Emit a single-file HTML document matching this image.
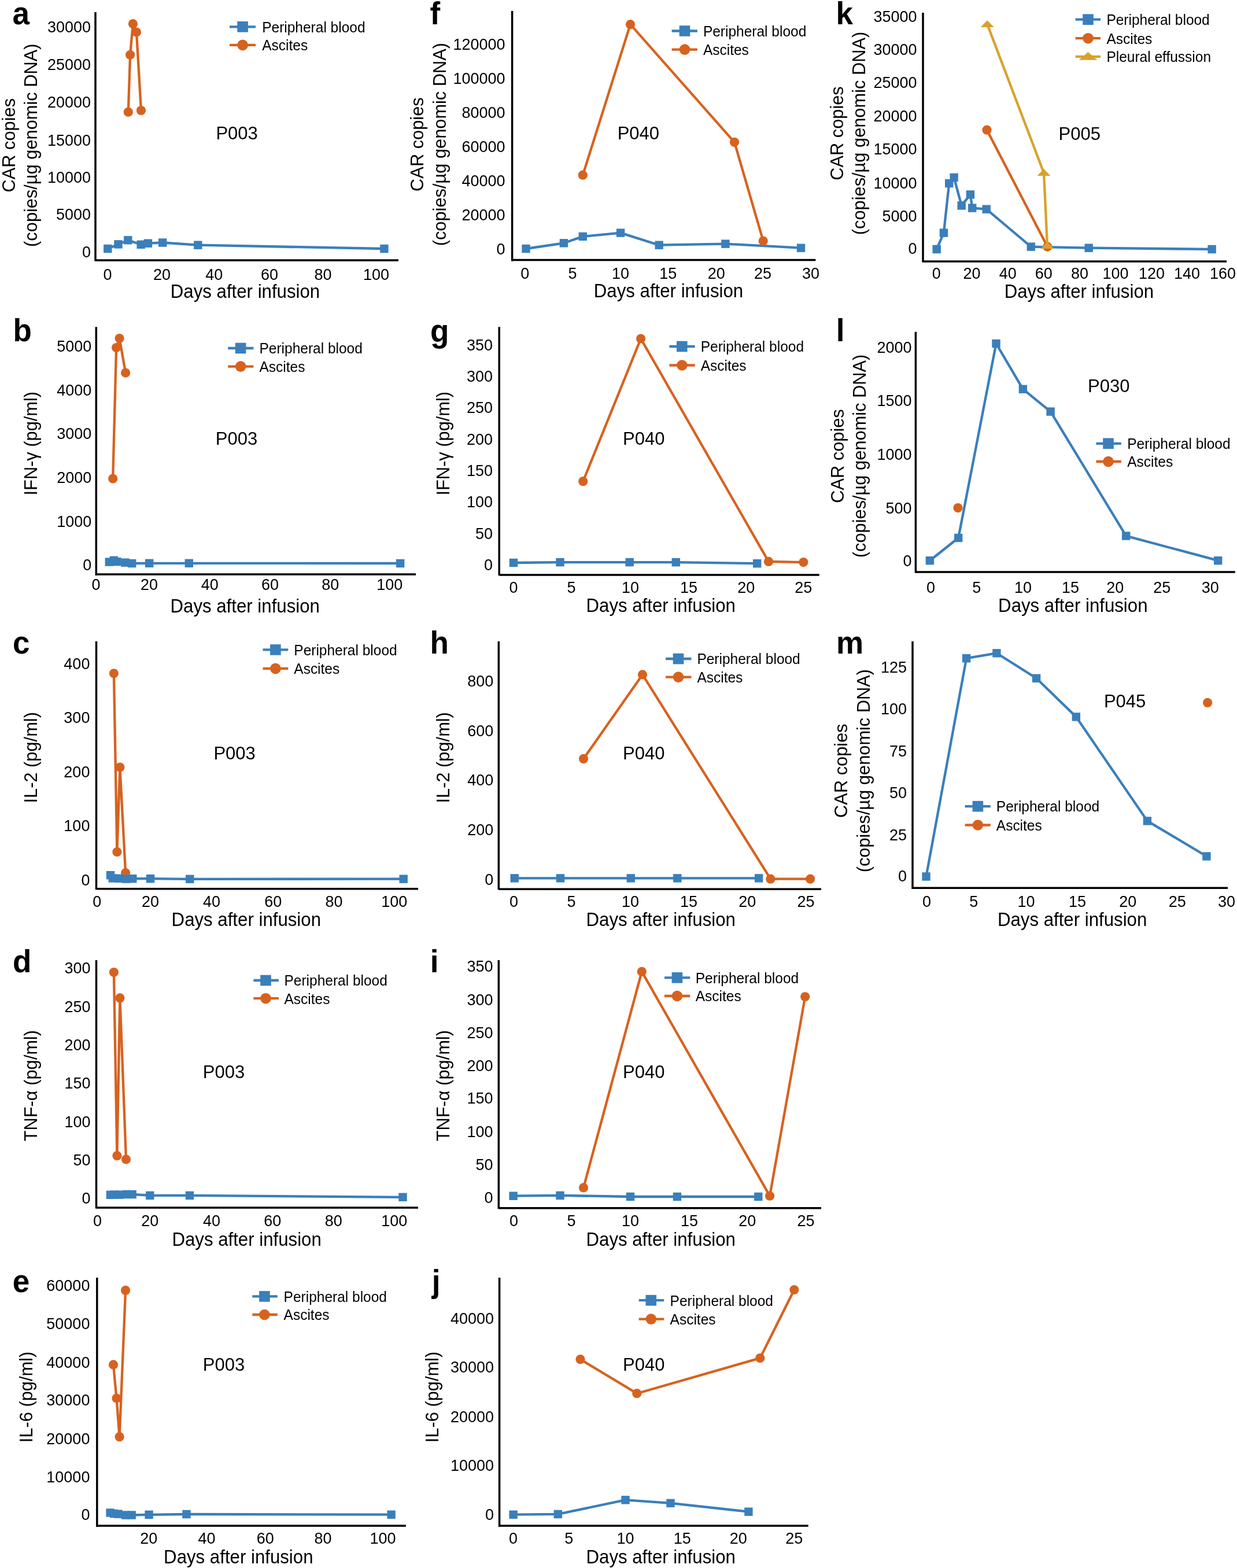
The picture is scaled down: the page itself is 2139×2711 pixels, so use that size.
<!DOCTYPE html>
<html><head><meta charset="utf-8"><title>Figure</title>
<style>
html,body{margin:0;padding:0;background:#fff;}
svg{display:block;}
text{font-family:'Liberation Sans', Arial, sans-serif;fill:#000;}
</style></head>
<body>
<svg width="2139" height="2711" viewBox="0 0 2139 2711">
<rect width="2139" height="2711" fill="#fff"/>
<text x="21.5" y="42.3" font-size="53" text-anchor="start" font-weight="bold" transform="translate(21.5 42.3) scale(1 1.04) translate(-21.5 -42.3)">a</text>
<line x1="165" y1="21" x2="165" y2="451.5" stroke="#000" stroke-width="3.5"/>
<line x1="165" y1="450" x2="689" y2="450" stroke="#000" stroke-width="3.5"/>
<text x="157.0" y="444.8" font-size="27" text-anchor="end" transform="translate(157.0 444.8) scale(1 1.04) translate(-157.0 -444.8)">0</text>
<text x="157.0" y="379.8" font-size="27" text-anchor="end" transform="translate(157.0 379.8) scale(1 1.04) translate(-157.0 -379.8)">5000</text>
<text x="157.0" y="315.8" font-size="27" text-anchor="end" transform="translate(157.0 315.8) scale(1 1.04) translate(-157.0 -315.8)">10000</text>
<text x="157.0" y="251.6" font-size="27" text-anchor="end" transform="translate(157.0 251.6) scale(1 1.04) translate(-157.0 -251.6)">15000</text>
<text x="157.0" y="185.6" font-size="27" text-anchor="end" transform="translate(157.0 185.6) scale(1 1.04) translate(-157.0 -185.6)">20000</text>
<text x="157.0" y="121.4" font-size="27" text-anchor="end" transform="translate(157.0 121.4) scale(1 1.04) translate(-157.0 -121.4)">25000</text>
<text x="157.0" y="56.3" font-size="27" text-anchor="end" transform="translate(157.0 56.3) scale(1 1.04) translate(-157.0 -56.3)">30000</text>
<text x="186.0" y="483.9" font-size="27" text-anchor="middle" transform="translate(186.0 483.9) scale(1 1.04) translate(-186.0 -483.9)">0</text>
<text x="280.0" y="483.9" font-size="27" text-anchor="middle" transform="translate(280.0 483.9) scale(1 1.04) translate(-280.0 -483.9)">20</text>
<text x="370.2" y="483.9" font-size="27" text-anchor="middle" transform="translate(370.2 483.9) scale(1 1.04) translate(-370.2 -483.9)">40</text>
<text x="466.0" y="483.9" font-size="27" text-anchor="middle" transform="translate(466.0 483.9) scale(1 1.04) translate(-466.0 -483.9)">60</text>
<text x="558.4" y="483.9" font-size="27" text-anchor="middle" transform="translate(558.4 483.9) scale(1 1.04) translate(-558.4 -483.9)">80</text>
<text x="650.5" y="483.9" font-size="27" text-anchor="middle" transform="translate(650.5 483.9) scale(1 1.04) translate(-650.5 -483.9)">100</text>
<text x="424.0" y="514.7" font-size="31.2" text-anchor="middle" transform="translate(424.0 514.7) scale(1 1.04) translate(-424.0 -514.7)">Days after infusion</text>
<text x="26.3" y="251.2" font-size="30.8" text-anchor="middle" transform="rotate(-90 26.3 251.2) translate(26.3 251.2) scale(1 1.04) translate(-26.3 -251.2)">CAR copies</text>
<text x="64.0" y="251.2" font-size="30.8" text-anchor="middle" transform="rotate(-90 64.0 251.2) translate(64.0 251.2) scale(1 1.04) translate(-64.0 -251.2)">(copies/µg genomic DNA)</text>
<text x="409.6" y="240.7" font-size="31" text-anchor="middle" transform="translate(409.6 240.7) scale(1 1.04) translate(-409.6 -240.7)">P003</text>
<polyline points="186.3,430.0 204.5,422.4 221.3,415.3 243.7,422.8 255.9,420.7 281.2,419.5 342.3,423.7 664.4,430.0" fill="none" stroke="#3a7fbb" stroke-width="4.3" stroke-linejoin="round"/>
<rect x="179.10" y="422.80" width="14.40" height="14.40" fill="#3a7fbb"/>
<rect x="197.30" y="415.20" width="14.40" height="14.40" fill="#3a7fbb"/>
<rect x="214.10" y="408.10" width="14.40" height="14.40" fill="#3a7fbb"/>
<rect x="236.50" y="415.60" width="14.40" height="14.40" fill="#3a7fbb"/>
<rect x="248.70" y="413.50" width="14.40" height="14.40" fill="#3a7fbb"/>
<rect x="274.00" y="412.30" width="14.40" height="14.40" fill="#3a7fbb"/>
<rect x="335.10" y="416.50" width="14.40" height="14.40" fill="#3a7fbb"/>
<rect x="657.20" y="422.80" width="14.40" height="14.40" fill="#3a7fbb"/>
<polyline points="221.8,193.7 225.1,94.8 229.9,41.2 236.0,55.5 244.0,191.0" fill="none" stroke="#d7621f" stroke-width="4.3" stroke-linejoin="round"/>
<circle cx="221.8" cy="193.7" r="8.10" fill="#d7621f"/>
<circle cx="225.1" cy="94.8" r="8.10" fill="#d7621f"/>
<circle cx="229.9" cy="41.2" r="8.10" fill="#d7621f"/>
<circle cx="236.0" cy="55.5" r="8.10" fill="#d7621f"/>
<circle cx="244.0" cy="191.0" r="8.10" fill="#d7621f"/>
<line x1="397" y1="46.3" x2="442" y2="46.3" stroke="#3a7fbb" stroke-width="4.3"/>
<rect x="410.30" y="37.00" width="18.60" height="18.60" fill="#3a7fbb"/>
<text x="453.2" y="55.7" font-size="24.5" text-anchor="start" transform="translate(453.2 55.7) scale(1 1.04) translate(-453.2 -55.7)">Peripheral blood</text>
<line x1="397" y1="77.9" x2="442" y2="77.9" stroke="#d7621f" stroke-width="4.3"/>
<circle cx="419.6" cy="77.9" r="9.30" fill="#d7621f"/>
<text x="453.2" y="87.3" font-size="24.5" text-anchor="start" transform="translate(453.2 87.3) scale(1 1.04) translate(-453.2 -87.3)">Ascites</text>
<text x="743.6" y="42.0" font-size="53" text-anchor="start" font-weight="bold" transform="translate(743.6 42.0) scale(1 1.04) translate(-743.6 -42.0)">f</text>
<line x1="885.6" y1="19" x2="885.6" y2="451.5" stroke="#000" stroke-width="3.5"/>
<line x1="885.6" y1="449.6" x2="1410.4" y2="449.6" stroke="#000" stroke-width="3.5"/>
<text x="873.5" y="440.3" font-size="27" text-anchor="end" transform="translate(873.5 440.3) scale(1 1.04) translate(-873.5 -440.3)">0</text>
<text x="873.5" y="381.2" font-size="27" text-anchor="end" transform="translate(873.5 381.2) scale(1 1.04) translate(-873.5 -381.2)">20000</text>
<text x="873.5" y="322.2" font-size="27" text-anchor="end" transform="translate(873.5 322.2) scale(1 1.04) translate(-873.5 -322.2)">40000</text>
<text x="873.5" y="263.2" font-size="27" text-anchor="end" transform="translate(873.5 263.2) scale(1 1.04) translate(-873.5 -263.2)">60000</text>
<text x="873.5" y="204.2" font-size="27" text-anchor="end" transform="translate(873.5 204.2) scale(1 1.04) translate(-873.5 -204.2)">80000</text>
<text x="873.5" y="145.1" font-size="27" text-anchor="end" transform="translate(873.5 145.1) scale(1 1.04) translate(-873.5 -145.1)">100000</text>
<text x="873.5" y="86.2" font-size="27" text-anchor="end" transform="translate(873.5 86.2) scale(1 1.04) translate(-873.5 -86.2)">120000</text>
<text x="907.8" y="482.4" font-size="27" text-anchor="middle" transform="translate(907.8 482.4) scale(1 1.04) translate(-907.8 -482.4)">0</text>
<text x="990.0" y="482.4" font-size="27" text-anchor="middle" transform="translate(990.0 482.4) scale(1 1.04) translate(-990.0 -482.4)">5</text>
<text x="1073.1" y="482.4" font-size="27" text-anchor="middle" transform="translate(1073.1 482.4) scale(1 1.04) translate(-1073.1 -482.4)">10</text>
<text x="1155.3" y="482.4" font-size="27" text-anchor="middle" transform="translate(1155.3 482.4) scale(1 1.04) translate(-1155.3 -482.4)">15</text>
<text x="1238.8" y="482.4" font-size="27" text-anchor="middle" transform="translate(1238.8 482.4) scale(1 1.04) translate(-1238.8 -482.4)">20</text>
<text x="1318.9" y="482.4" font-size="27" text-anchor="middle" transform="translate(1318.9 482.4) scale(1 1.04) translate(-1318.9 -482.4)">25</text>
<text x="1401.9" y="482.4" font-size="27" text-anchor="middle" transform="translate(1401.9 482.4) scale(1 1.04) translate(-1401.9 -482.4)">30</text>
<text x="1156.0" y="513.9" font-size="31.2" text-anchor="middle" transform="translate(1156.0 513.9) scale(1 1.04) translate(-1156.0 -513.9)">Days after infusion</text>
<text x="732.5" y="249.6" font-size="30.8" text-anchor="middle" transform="rotate(-90 732.5 249.6) translate(732.5 249.6) scale(1 1.04) translate(-732.5 -249.6)">CAR copies</text>
<text x="771.0" y="249.6" font-size="30.8" text-anchor="middle" transform="rotate(-90 771.0 249.6) translate(771.0 249.6) scale(1 1.04) translate(-771.0 -249.6)">(copies/µg genomic DNA)</text>
<text x="1103.9" y="241.4" font-size="31" text-anchor="middle" transform="translate(1103.9 241.4) scale(1 1.04) translate(-1103.9 -241.4)">P040</text>
<polyline points="909.5,430.0 974.9,420.3 1007.8,408.9 1073.1,402.6 1139.7,423.7 1254.4,421.6 1385.0,428.7" fill="none" stroke="#3a7fbb" stroke-width="4.3" stroke-linejoin="round"/>
<rect x="902.30" y="422.80" width="14.40" height="14.40" fill="#3a7fbb"/>
<rect x="967.70" y="413.10" width="14.40" height="14.40" fill="#3a7fbb"/>
<rect x="1000.60" y="401.70" width="14.40" height="14.40" fill="#3a7fbb"/>
<rect x="1065.90" y="395.40" width="14.40" height="14.40" fill="#3a7fbb"/>
<rect x="1132.50" y="416.50" width="14.40" height="14.40" fill="#3a7fbb"/>
<rect x="1247.20" y="414.40" width="14.40" height="14.40" fill="#3a7fbb"/>
<rect x="1377.80" y="421.50" width="14.40" height="14.40" fill="#3a7fbb"/>
<polyline points="1007.8,302.7 1090.0,42.2 1270.0,245.8 1319.7,416.5" fill="none" stroke="#d7621f" stroke-width="4.3" stroke-linejoin="round"/>
<circle cx="1007.8" cy="302.7" r="8.10" fill="#d7621f"/>
<circle cx="1090.0" cy="42.2" r="8.10" fill="#d7621f"/>
<circle cx="1270.0" cy="245.8" r="8.10" fill="#d7621f"/>
<circle cx="1319.7" cy="416.5" r="8.10" fill="#d7621f"/>
<line x1="1161.6" y1="53.5" x2="1205.9" y2="53.5" stroke="#3a7fbb" stroke-width="4.3"/>
<rect x="1174.70" y="44.20" width="18.60" height="18.60" fill="#3a7fbb"/>
<text x="1215.9" y="62.9" font-size="24.5" text-anchor="start" transform="translate(1215.9 62.9) scale(1 1.04) translate(-1215.9 -62.9)">Peripheral blood</text>
<line x1="1161.6" y1="85.6" x2="1205.9" y2="85.6" stroke="#d7621f" stroke-width="4.3"/>
<circle cx="1184.0" cy="85.6" r="9.30" fill="#d7621f"/>
<text x="1215.9" y="95.0" font-size="24.5" text-anchor="start" transform="translate(1215.9 95.0) scale(1 1.04) translate(-1215.9 -95.0)">Ascites</text>
<text x="1445.5" y="41.9" font-size="53" text-anchor="start" font-weight="bold" transform="translate(1445.5 41.9) scale(1 1.04) translate(-1445.5 -41.9)">k</text>
<line x1="1596" y1="21.9" x2="1596" y2="453.5" stroke="#000" stroke-width="3.5"/>
<line x1="1596" y1="452" x2="2121" y2="452" stroke="#000" stroke-width="3.5"/>
<text x="1585.5" y="439.4" font-size="27" text-anchor="end" transform="translate(1585.5 439.4) scale(1 1.04) translate(-1585.5 -439.4)">0</text>
<text x="1585.5" y="382.6" font-size="27" text-anchor="end" transform="translate(1585.5 382.6) scale(1 1.04) translate(-1585.5 -382.6)">5000</text>
<text x="1585.5" y="325.6" font-size="27" text-anchor="end" transform="translate(1585.5 325.6) scale(1 1.04) translate(-1585.5 -325.6)">10000</text>
<text x="1585.5" y="267.4" font-size="27" text-anchor="end" transform="translate(1585.5 267.4) scale(1 1.04) translate(-1585.5 -267.4)">15000</text>
<text x="1585.5" y="209.8" font-size="27" text-anchor="end" transform="translate(1585.5 209.8) scale(1 1.04) translate(-1585.5 -209.8)">20000</text>
<text x="1585.5" y="151.9" font-size="27" text-anchor="end" transform="translate(1585.5 151.9) scale(1 1.04) translate(-1585.5 -151.9)">25000</text>
<text x="1585.5" y="94.7" font-size="27" text-anchor="end" transform="translate(1585.5 94.7) scale(1 1.04) translate(-1585.5 -94.7)">30000</text>
<text x="1585.5" y="37.6" font-size="27" text-anchor="end" transform="translate(1585.5 37.6) scale(1 1.04) translate(-1585.5 -37.6)">35000</text>
<text x="1619.3" y="482.4" font-size="27" text-anchor="middle" transform="translate(1619.3 482.4) scale(1 1.04) translate(-1619.3 -482.4)">0</text>
<text x="1680.4" y="482.4" font-size="27" text-anchor="middle" transform="translate(1680.4 482.4) scale(1 1.04) translate(-1680.4 -482.4)">20</text>
<text x="1742.8" y="482.4" font-size="27" text-anchor="middle" transform="translate(1742.8 482.4) scale(1 1.04) translate(-1742.8 -482.4)">40</text>
<text x="1804.8" y="482.4" font-size="27" text-anchor="middle" transform="translate(1804.8 482.4) scale(1 1.04) translate(-1804.8 -482.4)">60</text>
<text x="1867.1" y="482.4" font-size="27" text-anchor="middle" transform="translate(1867.1 482.4) scale(1 1.04) translate(-1867.1 -482.4)">80</text>
<text x="1929.1" y="482.4" font-size="27" text-anchor="middle" transform="translate(1929.1 482.4) scale(1 1.04) translate(-1929.1 -482.4)">100</text>
<text x="1991.5" y="482.4" font-size="27" text-anchor="middle" transform="translate(1991.5 482.4) scale(1 1.04) translate(-1991.5 -482.4)">120</text>
<text x="2052.6" y="482.4" font-size="27" text-anchor="middle" transform="translate(2052.6 482.4) scale(1 1.04) translate(-2052.6 -482.4)">140</text>
<text x="2114.6" y="482.4" font-size="27" text-anchor="middle" transform="translate(2114.6 482.4) scale(1 1.04) translate(-2114.6 -482.4)">160</text>
<text x="1865.9" y="514.7" font-size="31.2" text-anchor="middle" transform="translate(1865.9 514.7) scale(1 1.04) translate(-1865.9 -514.7)">Days after infusion</text>
<text x="1457.7" y="230.5" font-size="30.8" text-anchor="middle" transform="rotate(-90 1457.7 230.5) translate(1457.7 230.5) scale(1 1.04) translate(-1457.7 -230.5)">CAR copies</text>
<text x="1496.0" y="230.5" font-size="30.8" text-anchor="middle" transform="rotate(-90 1496.0 230.5) translate(1496.0 230.5) scale(1 1.04) translate(-1496.0 -230.5)">(copies/µg genomic DNA)</text>
<text x="1866.7" y="241.8" font-size="31" text-anchor="middle" transform="translate(1866.7 241.8) scale(1 1.04) translate(-1866.7 -241.8)">P005</text>
<polyline points="1619.7,430.9 1631.9,402.6 1641.2,317.0 1649.6,306.9 1662.7,355.4 1677.9,336.4 1681.2,359.6 1705.7,361.7 1782.8,426.6 1882.7,428.7 2095.6,430.9" fill="none" stroke="#3a7fbb" stroke-width="4.3" stroke-linejoin="round"/>
<rect x="1612.50" y="423.70" width="14.40" height="14.40" fill="#3a7fbb"/>
<rect x="1624.70" y="395.40" width="14.40" height="14.40" fill="#3a7fbb"/>
<rect x="1634.00" y="309.80" width="14.40" height="14.40" fill="#3a7fbb"/>
<rect x="1642.40" y="299.70" width="14.40" height="14.40" fill="#3a7fbb"/>
<rect x="1655.50" y="348.20" width="14.40" height="14.40" fill="#3a7fbb"/>
<rect x="1670.70" y="329.20" width="14.40" height="14.40" fill="#3a7fbb"/>
<rect x="1674.00" y="352.40" width="14.40" height="14.40" fill="#3a7fbb"/>
<rect x="1698.50" y="354.50" width="14.40" height="14.40" fill="#3a7fbb"/>
<rect x="1775.60" y="419.40" width="14.40" height="14.40" fill="#3a7fbb"/>
<rect x="1875.50" y="421.50" width="14.40" height="14.40" fill="#3a7fbb"/>
<rect x="2088.40" y="423.70" width="14.40" height="14.40" fill="#3a7fbb"/>
<polyline points="1706.5,224.7 1811.2,426.6" fill="none" stroke="#d7621f" stroke-width="4.3" stroke-linejoin="round"/>
<circle cx="1706.5" cy="224.7" r="8.10" fill="#d7621f"/>
<circle cx="1811.2" cy="426.6" r="8.10" fill="#d7621f"/>
<polyline points="1707.2,42.0 1805.0,299.0 1811.0,425.0" fill="none" stroke="#d9a12a" stroke-width="4.3" stroke-linejoin="round"/>
<polygon points="1707.2,35.0 1695.8,47.0 1718.6,47.0" fill="#d9a12a"/>
<polygon points="1805.0,292.0 1793.6,304.0 1816.4,304.0" fill="#d9a12a"/>
<polygon points="1811.0,418.0 1799.6,430.0 1822.4,430.0" fill="#d9a12a"/>
<line x1="1859.6" y1="33.7" x2="1903" y2="33.7" stroke="#3a7fbb" stroke-width="4.3"/>
<rect x="1872.20" y="24.40" width="18.60" height="18.60" fill="#3a7fbb"/>
<text x="1913.4" y="43.1" font-size="24.5" text-anchor="start" transform="translate(1913.4 43.1) scale(1 1.04) translate(-1913.4 -43.1)">Peripheral blood</text>
<line x1="1859.6" y1="66.2" x2="1903" y2="66.2" stroke="#d7621f" stroke-width="4.3"/>
<circle cx="1881.5" cy="66.2" r="9.30" fill="#d7621f"/>
<text x="1913.4" y="75.6" font-size="24.5" text-anchor="start" transform="translate(1913.4 75.6) scale(1 1.04) translate(-1913.4 -75.6)">Ascites</text>
<line x1="1859.6" y1="97.8" x2="1903" y2="97.8" stroke="#d9a12a" stroke-width="4.3"/>
<polygon points="1881.5,90.1 1865.7,103.7 1897.3,103.7" fill="#d9a12a"/>
<text x="1913.4" y="107.2" font-size="24.5" text-anchor="start" transform="translate(1913.4 107.2) scale(1 1.04) translate(-1913.4 -107.2)">Pleural effussion</text>
<text x="22.6" y="590.5" font-size="53" text-anchor="start" font-weight="bold" transform="translate(22.6 590.5) scale(1 1.04) translate(-22.6 -590.5)">b</text>
<line x1="166.3" y1="565.3" x2="166.3" y2="995" stroke="#000" stroke-width="3.5"/>
<line x1="166.3" y1="993" x2="719" y2="993" stroke="#000" stroke-width="3.5"/>
<text x="158.3" y="985.8" font-size="27" text-anchor="end" transform="translate(158.3 985.8) scale(1 1.04) translate(-158.3 -985.8)">0</text>
<text x="158.3" y="910.8" font-size="27" text-anchor="end" transform="translate(158.3 910.8) scale(1 1.04) translate(-158.3 -910.8)">1000</text>
<text x="158.3" y="835.2" font-size="27" text-anchor="end" transform="translate(158.3 835.2) scale(1 1.04) translate(-158.3 -835.2)">2000</text>
<text x="158.3" y="759.0" font-size="27" text-anchor="end" transform="translate(158.3 759.0) scale(1 1.04) translate(-158.3 -759.0)">3000</text>
<text x="158.3" y="684.4" font-size="27" text-anchor="end" transform="translate(158.3 684.4) scale(1 1.04) translate(-158.3 -684.4)">4000</text>
<text x="158.3" y="608.5" font-size="27" text-anchor="end" transform="translate(158.3 608.5) scale(1 1.04) translate(-158.3 -608.5)">5000</text>
<text x="166.0" y="1020.1" font-size="27" text-anchor="middle" transform="translate(166.0 1020.1) scale(1 1.04) translate(-166.0 -1020.1)">0</text>
<text x="258.0" y="1020.1" font-size="27" text-anchor="middle" transform="translate(258.0 1020.1) scale(1 1.04) translate(-258.0 -1020.1)">20</text>
<text x="362.7" y="1020.1" font-size="27" text-anchor="middle" transform="translate(362.7 1020.1) scale(1 1.04) translate(-362.7 -1020.1)">40</text>
<text x="467.1" y="1020.1" font-size="27" text-anchor="middle" transform="translate(467.1 1020.1) scale(1 1.04) translate(-467.1 -1020.1)">60</text>
<text x="571.2" y="1020.1" font-size="27" text-anchor="middle" transform="translate(571.2 1020.1) scale(1 1.04) translate(-571.2 -1020.1)">80</text>
<text x="673.7" y="1020.1" font-size="27" text-anchor="middle" transform="translate(673.7 1020.1) scale(1 1.04) translate(-673.7 -1020.1)">100</text>
<text x="423.7" y="1058.9" font-size="31.2" text-anchor="middle" transform="translate(423.7 1058.9) scale(1 1.04) translate(-423.7 -1058.9)">Days after infusion</text>
<text x="63.6" y="766.7" font-size="30.8" text-anchor="middle" transform="rotate(-90 63.6 766.7) translate(63.6 766.7) scale(1 1.04) translate(-63.6 -766.7)">IFN-γ (pg/ml)</text>
<text x="409.0" y="769.2" font-size="31" text-anchor="middle" transform="translate(409.0 769.2) scale(1 1.04) translate(-409.0 -769.2)">P003</text>
<polyline points="188.8,971.6 196.9,968.8 202.4,971.1 216.4,972.7 228.2,974.0 258.2,973.8 326.8,973.8 692.2,974.0" fill="none" stroke="#3a7fbb" stroke-width="4.3" stroke-linejoin="round"/>
<rect x="181.60" y="964.40" width="14.40" height="14.40" fill="#3a7fbb"/>
<rect x="189.70" y="961.60" width="14.40" height="14.40" fill="#3a7fbb"/>
<rect x="195.20" y="963.90" width="14.40" height="14.40" fill="#3a7fbb"/>
<rect x="209.20" y="965.50" width="14.40" height="14.40" fill="#3a7fbb"/>
<rect x="221.00" y="966.80" width="14.40" height="14.40" fill="#3a7fbb"/>
<rect x="251.00" y="966.60" width="14.40" height="14.40" fill="#3a7fbb"/>
<rect x="319.60" y="966.60" width="14.40" height="14.40" fill="#3a7fbb"/>
<rect x="685.00" y="966.80" width="14.40" height="14.40" fill="#3a7fbb"/>
<polyline points="195.2,827.5 201.1,601.1 206.6,585.1 217.1,644.6" fill="none" stroke="#d7621f" stroke-width="4.3" stroke-linejoin="round"/>
<circle cx="195.2" cy="827.5" r="8.10" fill="#d7621f"/>
<circle cx="201.1" cy="601.1" r="8.10" fill="#d7621f"/>
<circle cx="206.6" cy="585.1" r="8.10" fill="#d7621f"/>
<circle cx="217.1" cy="644.6" r="8.10" fill="#d7621f"/>
<line x1="394.2" y1="602" x2="438.4" y2="602" stroke="#3a7fbb" stroke-width="4.3"/>
<rect x="406.80" y="592.70" width="18.60" height="18.60" fill="#3a7fbb"/>
<text x="448.5" y="611.4" font-size="24.5" text-anchor="start" transform="translate(448.5 611.4) scale(1 1.04) translate(-448.5 -611.4)">Peripheral blood</text>
<line x1="394.2" y1="633.6" x2="438.4" y2="633.6" stroke="#d7621f" stroke-width="4.3"/>
<circle cx="416.1" cy="633.6" r="9.30" fill="#d7621f"/>
<text x="448.5" y="643.0" font-size="24.5" text-anchor="start" transform="translate(448.5 643.0) scale(1 1.04) translate(-448.5 -643.0)">Ascites</text>
<text x="744.1" y="590.7" font-size="53" text-anchor="start" font-weight="bold" transform="translate(744.1 590.7) scale(1 1.04) translate(-744.1 -590.7)">g</text>
<line x1="863.2" y1="565.3" x2="863.2" y2="995" stroke="#000" stroke-width="3.5"/>
<line x1="863.2" y1="994" x2="1416.7" y2="994" stroke="#000" stroke-width="3.5"/>
<text x="852.0" y="985.8" font-size="27" text-anchor="end" transform="translate(852.0 985.8) scale(1 1.04) translate(-852.0 -985.8)">0</text>
<text x="852.0" y="931.9" font-size="27" text-anchor="end" transform="translate(852.0 931.9) scale(1 1.04) translate(-852.0 -931.9)">50</text>
<text x="852.0" y="877.5" font-size="27" text-anchor="end" transform="translate(852.0 877.5) scale(1 1.04) translate(-852.0 -877.5)">100</text>
<text x="852.0" y="822.7" font-size="27" text-anchor="end" transform="translate(852.0 822.7) scale(1 1.04) translate(-852.0 -822.7)">150</text>
<text x="852.0" y="768.7" font-size="27" text-anchor="end" transform="translate(852.0 768.7) scale(1 1.04) translate(-852.0 -768.7)">200</text>
<text x="852.0" y="713.9" font-size="27" text-anchor="end" transform="translate(852.0 713.9) scale(1 1.04) translate(-852.0 -713.9)">250</text>
<text x="852.0" y="660.0" font-size="27" text-anchor="end" transform="translate(852.0 660.0) scale(1 1.04) translate(-852.0 -660.0)">300</text>
<text x="852.0" y="605.6" font-size="27" text-anchor="end" transform="translate(852.0 605.6) scale(1 1.04) translate(-852.0 -605.6)">350</text>
<text x="888.0" y="1025.0" font-size="27" text-anchor="middle" transform="translate(888.0 1025.0) scale(1 1.04) translate(-888.0 -1025.0)">0</text>
<text x="988.0" y="1025.0" font-size="27" text-anchor="middle" transform="translate(988.0 1025.0) scale(1 1.04) translate(-988.0 -1025.0)">5</text>
<text x="1090.0" y="1025.0" font-size="27" text-anchor="middle" transform="translate(1090.0 1025.0) scale(1 1.04) translate(-1090.0 -1025.0)">10</text>
<text x="1191.1" y="1025.0" font-size="27" text-anchor="middle" transform="translate(1191.1 1025.0) scale(1 1.04) translate(-1191.1 -1025.0)">15</text>
<text x="1290.2" y="1025.0" font-size="27" text-anchor="middle" transform="translate(1290.2 1025.0) scale(1 1.04) translate(-1290.2 -1025.0)">20</text>
<text x="1389.3" y="1025.0" font-size="27" text-anchor="middle" transform="translate(1389.3 1025.0) scale(1 1.04) translate(-1389.3 -1025.0)">25</text>
<text x="1142.7" y="1058.1" font-size="31.2" text-anchor="middle" transform="translate(1142.7 1058.1) scale(1 1.04) translate(-1142.7 -1058.1)">Days after infusion</text>
<text x="777.1" y="766.7" font-size="30.8" text-anchor="middle" transform="rotate(-90 777.1 766.7) translate(777.1 766.7) scale(1 1.04) translate(-777.1 -766.7)">IFN-γ (pg/ml)</text>
<text x="1113.2" y="769.2" font-size="31" text-anchor="middle" transform="translate(1113.2 769.2) scale(1 1.04) translate(-1113.2 -769.2)">P040</text>
<polyline points="888.0,973.0 968.5,972.1 1088.7,972.1 1168.8,972.1 1309.2,974.2" fill="none" stroke="#3a7fbb" stroke-width="4.3" stroke-linejoin="round"/>
<rect x="880.80" y="965.80" width="14.40" height="14.40" fill="#3a7fbb"/>
<rect x="961.30" y="964.90" width="14.40" height="14.40" fill="#3a7fbb"/>
<rect x="1081.50" y="964.90" width="14.40" height="14.40" fill="#3a7fbb"/>
<rect x="1161.60" y="964.90" width="14.40" height="14.40" fill="#3a7fbb"/>
<rect x="1302.00" y="967.00" width="14.40" height="14.40" fill="#3a7fbb"/>
<polyline points="1008.2,832.2 1108.1,585.5 1329.0,970.9 1389.3,972.1" fill="none" stroke="#d7621f" stroke-width="4.3" stroke-linejoin="round"/>
<circle cx="1008.2" cy="832.2" r="8.10" fill="#d7621f"/>
<circle cx="1108.1" cy="585.5" r="8.10" fill="#d7621f"/>
<circle cx="1329.0" cy="970.9" r="8.10" fill="#d7621f"/>
<circle cx="1389.3" cy="972.1" r="8.10" fill="#d7621f"/>
<line x1="1157.4" y1="599" x2="1201.7" y2="599" stroke="#3a7fbb" stroke-width="4.3"/>
<rect x="1170.00" y="589.70" width="18.60" height="18.60" fill="#3a7fbb"/>
<text x="1211.7" y="608.4" font-size="24.5" text-anchor="start" transform="translate(1211.7 608.4) scale(1 1.04) translate(-1211.7 -608.4)">Peripheral blood</text>
<line x1="1157.4" y1="631.5" x2="1201.7" y2="631.5" stroke="#d7621f" stroke-width="4.3"/>
<circle cx="1179.3" cy="631.5" r="9.30" fill="#d7621f"/>
<text x="1211.7" y="640.9" font-size="24.5" text-anchor="start" transform="translate(1211.7 640.9) scale(1 1.04) translate(-1211.7 -640.9)">Ascites</text>
<text x="1445.8" y="590.5" font-size="53" text-anchor="start" font-weight="bold" transform="translate(1445.8 590.5) scale(1 1.04) translate(-1445.8 -590.5)">l</text>
<line x1="1583.4" y1="573.7" x2="1583.4" y2="990.5" stroke="#000" stroke-width="3.5"/>
<line x1="1583.4" y1="989" x2="2135.7" y2="989" stroke="#000" stroke-width="3.5"/>
<text x="1576.5" y="979.5" font-size="27" text-anchor="end" transform="translate(1576.5 979.5) scale(1 1.04) translate(-1576.5 -979.5)">0</text>
<text x="1576.5" y="887.6" font-size="27" text-anchor="end" transform="translate(1576.5 887.6) scale(1 1.04) translate(-1576.5 -887.6)">500</text>
<text x="1576.5" y="795.2" font-size="27" text-anchor="end" transform="translate(1576.5 795.2) scale(1 1.04) translate(-1576.5 -795.2)">1000</text>
<text x="1576.5" y="702.1" font-size="27" text-anchor="end" transform="translate(1576.5 702.1) scale(1 1.04) translate(-1576.5 -702.1)">1500</text>
<text x="1576.5" y="609.8" font-size="27" text-anchor="end" transform="translate(1576.5 609.8) scale(1 1.04) translate(-1576.5 -609.8)">2000</text>
<text x="1609.6" y="1025.0" font-size="27" text-anchor="middle" transform="translate(1609.6 1025.0) scale(1 1.04) translate(-1609.6 -1025.0)">0</text>
<text x="1688.8" y="1025.0" font-size="27" text-anchor="middle" transform="translate(1688.8 1025.0) scale(1 1.04) translate(-1688.8 -1025.0)">5</text>
<text x="1768.9" y="1025.0" font-size="27" text-anchor="middle" transform="translate(1768.9 1025.0) scale(1 1.04) translate(-1768.9 -1025.0)">10</text>
<text x="1851.1" y="1025.0" font-size="27" text-anchor="middle" transform="translate(1851.1 1025.0) scale(1 1.04) translate(-1851.1 -1025.0)">15</text>
<text x="1928.3" y="1025.0" font-size="27" text-anchor="middle" transform="translate(1928.3 1025.0) scale(1 1.04) translate(-1928.3 -1025.0)">20</text>
<text x="2009.2" y="1025.0" font-size="27" text-anchor="middle" transform="translate(2009.2 1025.0) scale(1 1.04) translate(-2009.2 -1025.0)">25</text>
<text x="2092.7" y="1025.0" font-size="27" text-anchor="middle" transform="translate(2092.7 1025.0) scale(1 1.04) translate(-2092.7 -1025.0)">30</text>
<text x="1855.3" y="1058.1" font-size="31.2" text-anchor="middle" transform="translate(1855.3 1058.1) scale(1 1.04) translate(-1855.3 -1058.1)">Days after infusion</text>
<text x="1459.3" y="788.5" font-size="30.8" text-anchor="middle" transform="rotate(-90 1459.3 788.5) translate(1459.3 788.5) scale(1 1.04) translate(-1459.3 -788.5)">CAR copies</text>
<text x="1497.2" y="788.5" font-size="30.8" text-anchor="middle" transform="rotate(-90 1497.2 788.5) translate(1497.2 788.5) scale(1 1.04) translate(-1497.2 -788.5)">(copies/µg genomic DNA)</text>
<text x="1917.3" y="678.1" font-size="31" text-anchor="middle" transform="translate(1917.3 678.1) scale(1 1.04) translate(-1917.3 -678.1)">P030</text>
<polyline points="1607.9,969.2 1657.2,930.0 1722.5,594.0 1768.9,672.8 1816.6,711.6 1947.2,926.6 2106.2,969.2" fill="none" stroke="#3a7fbb" stroke-width="4.3" stroke-linejoin="round"/>
<rect x="1600.70" y="962.00" width="14.40" height="14.40" fill="#3a7fbb"/>
<rect x="1650.00" y="922.80" width="14.40" height="14.40" fill="#3a7fbb"/>
<rect x="1715.30" y="586.80" width="14.40" height="14.40" fill="#3a7fbb"/>
<rect x="1761.70" y="665.60" width="14.40" height="14.40" fill="#3a7fbb"/>
<rect x="1809.40" y="704.40" width="14.40" height="14.40" fill="#3a7fbb"/>
<rect x="1940.00" y="919.40" width="14.40" height="14.40" fill="#3a7fbb"/>
<rect x="2099.00" y="962.00" width="14.40" height="14.40" fill="#3a7fbb"/>
<circle cx="1656.4" cy="878.1" r="8.10" fill="#d7621f"/>
<line x1="1895.4" y1="766.8" x2="1938.8" y2="766.8" stroke="#3a7fbb" stroke-width="4.3"/>
<rect x="1907.20" y="757.50" width="18.60" height="18.60" fill="#3a7fbb"/>
<text x="1949.2" y="776.2" font-size="24.5" text-anchor="start" transform="translate(1949.2 776.2) scale(1 1.04) translate(-1949.2 -776.2)">Peripheral blood</text>
<line x1="1895.4" y1="798" x2="1938.8" y2="798" stroke="#d7621f" stroke-width="4.3"/>
<circle cx="1916.5" cy="798.0" r="9.30" fill="#d7621f"/>
<text x="1949.2" y="807.4" font-size="24.5" text-anchor="start" transform="translate(1949.2 807.4) scale(1 1.04) translate(-1949.2 -807.4)">Ascites</text>
<text x="22.0" y="1130.4" font-size="53" text-anchor="start" font-weight="bold" transform="translate(22.0 1130.4) scale(1 1.04) translate(-22.0 -1130.4)">c</text>
<line x1="166.5" y1="1108.7" x2="166.5" y2="1538" stroke="#000" stroke-width="3.5"/>
<line x1="166.5" y1="1536.8" x2="723" y2="1536.8" stroke="#000" stroke-width="3.5"/>
<text x="155.4" y="1531.2" font-size="27" text-anchor="end" transform="translate(155.4 1531.2) scale(1 1.04) translate(-155.4 -1531.2)">0</text>
<text x="155.4" y="1437.2" font-size="27" text-anchor="end" transform="translate(155.4 1437.2) scale(1 1.04) translate(-155.4 -1437.2)">100</text>
<text x="155.4" y="1343.7" font-size="27" text-anchor="end" transform="translate(155.4 1343.7) scale(1 1.04) translate(-155.4 -1343.7)">200</text>
<text x="155.4" y="1250.5" font-size="27" text-anchor="end" transform="translate(155.4 1250.5) scale(1 1.04) translate(-155.4 -1250.5)">300</text>
<text x="155.4" y="1157.0" font-size="27" text-anchor="end" transform="translate(155.4 1157.0) scale(1 1.04) translate(-155.4 -1157.0)">400</text>
<text x="167.8" y="1568.0" font-size="27" text-anchor="middle" transform="translate(167.8 1568.0) scale(1 1.04) translate(-167.8 -1568.0)">0</text>
<text x="260.1" y="1568.0" font-size="27" text-anchor="middle" transform="translate(260.1 1568.0) scale(1 1.04) translate(-260.1 -1568.0)">20</text>
<text x="365.9" y="1568.0" font-size="27" text-anchor="middle" transform="translate(365.9 1568.0) scale(1 1.04) translate(-365.9 -1568.0)">40</text>
<text x="472.2" y="1568.0" font-size="27" text-anchor="middle" transform="translate(472.2 1568.0) scale(1 1.04) translate(-472.2 -1568.0)">60</text>
<text x="577.6" y="1568.0" font-size="27" text-anchor="middle" transform="translate(577.6 1568.0) scale(1 1.04) translate(-577.6 -1568.0)">80</text>
<text x="681.7" y="1568.0" font-size="27" text-anchor="middle" transform="translate(681.7 1568.0) scale(1 1.04) translate(-681.7 -1568.0)">100</text>
<text x="425.8" y="1601.0" font-size="31.2" text-anchor="middle" transform="translate(425.8 1601.0) scale(1 1.04) translate(-425.8 -1601.0)">Days after infusion</text>
<text x="64.4" y="1309.8" font-size="30.8" text-anchor="middle" transform="rotate(-90 64.4 1309.8) translate(64.4 1309.8) scale(1 1.04) translate(-64.4 -1309.8)">IL-2 (pg/ml)</text>
<text x="405.6" y="1313.4" font-size="31" text-anchor="middle" transform="translate(405.6 1313.4) scale(1 1.04) translate(-405.6 -1313.4)">P003</text>
<polyline points="196.9,1164.3 202.4,1472.9 207.4,1326.6 217.1,1509.2" fill="none" stroke="#d7621f" stroke-width="4.3" stroke-linejoin="round"/>
<circle cx="196.9" cy="1164.3" r="8.10" fill="#d7621f"/>
<circle cx="202.4" cy="1472.9" r="8.10" fill="#d7621f"/>
<circle cx="207.4" cy="1326.6" r="8.10" fill="#d7621f"/>
<circle cx="217.1" cy="1509.2" r="8.10" fill="#d7621f"/>
<polyline points="191.0,1513.2 194.8,1518.5 206.0,1518.8 218.2,1519.6 229.3,1519.2 260.1,1519.2 328.3,1519.8 697.7,1519.7" fill="none" stroke="#3a7fbb" stroke-width="4.3" stroke-linejoin="round"/>
<rect x="183.80" y="1506.00" width="14.40" height="14.40" fill="#3a7fbb"/>
<rect x="187.60" y="1511.30" width="14.40" height="14.40" fill="#3a7fbb"/>
<rect x="198.80" y="1511.60" width="14.40" height="14.40" fill="#3a7fbb"/>
<rect x="211.00" y="1512.40" width="14.40" height="14.40" fill="#3a7fbb"/>
<rect x="222.10" y="1512.00" width="14.40" height="14.40" fill="#3a7fbb"/>
<rect x="252.90" y="1512.00" width="14.40" height="14.40" fill="#3a7fbb"/>
<rect x="321.10" y="1512.60" width="14.40" height="14.40" fill="#3a7fbb"/>
<rect x="690.50" y="1512.50" width="14.40" height="14.40" fill="#3a7fbb"/>
<line x1="454.5" y1="1123.4" x2="498.3" y2="1123.4" stroke="#3a7fbb" stroke-width="4.3"/>
<rect x="467.10" y="1114.10" width="18.60" height="18.60" fill="#3a7fbb"/>
<text x="508.3" y="1132.8" font-size="24.5" text-anchor="start" transform="translate(508.3 1132.8) scale(1 1.04) translate(-508.3 -1132.8)">Peripheral blood</text>
<line x1="454.5" y1="1155.9" x2="498.3" y2="1155.9" stroke="#d7621f" stroke-width="4.3"/>
<circle cx="476.4" cy="1155.9" r="9.30" fill="#d7621f"/>
<text x="508.3" y="1165.3" font-size="24.5" text-anchor="start" transform="translate(508.3 1165.3) scale(1 1.04) translate(-508.3 -1165.3)">Ascites</text>
<text x="743.6" y="1130.3" font-size="53" text-anchor="start" font-weight="bold" transform="translate(743.6 1130.3) scale(1 1.04) translate(-743.6 -1130.3)">h</text>
<line x1="862.3" y1="1108.7" x2="862.3" y2="1538" stroke="#000" stroke-width="3.5"/>
<line x1="862.3" y1="1537.2" x2="1420" y2="1537.2" stroke="#000" stroke-width="3.5"/>
<text x="853.3" y="1530.0" font-size="27" text-anchor="end" transform="translate(853.3 1530.0) scale(1 1.04) translate(-853.3 -1530.0)">0</text>
<text x="853.3" y="1444.5" font-size="27" text-anchor="end" transform="translate(853.3 1444.5) scale(1 1.04) translate(-853.3 -1444.5)">200</text>
<text x="853.3" y="1358.0" font-size="27" text-anchor="end" transform="translate(853.3 1358.0) scale(1 1.04) translate(-853.3 -1358.0)">400</text>
<text x="853.3" y="1272.9" font-size="27" text-anchor="end" transform="translate(853.3 1272.9) scale(1 1.04) translate(-853.3 -1272.9)">600</text>
<text x="853.3" y="1187.2" font-size="27" text-anchor="end" transform="translate(853.3 1187.2) scale(1 1.04) translate(-853.3 -1187.2)">800</text>
<text x="888.4" y="1568.0" font-size="27" text-anchor="middle" transform="translate(888.4 1568.0) scale(1 1.04) translate(-888.4 -1568.0)">0</text>
<text x="988.0" y="1568.0" font-size="27" text-anchor="middle" transform="translate(988.0 1568.0) scale(1 1.04) translate(-988.0 -1568.0)">5</text>
<text x="1090.0" y="1568.0" font-size="27" text-anchor="middle" transform="translate(1090.0 1568.0) scale(1 1.04) translate(-1090.0 -1568.0)">10</text>
<text x="1191.1" y="1568.0" font-size="27" text-anchor="middle" transform="translate(1191.1 1568.0) scale(1 1.04) translate(-1191.1 -1568.0)">15</text>
<text x="1292.3" y="1568.0" font-size="27" text-anchor="middle" transform="translate(1292.3 1568.0) scale(1 1.04) translate(-1292.3 -1568.0)">20</text>
<text x="1393.5" y="1568.0" font-size="27" text-anchor="middle" transform="translate(1393.5 1568.0) scale(1 1.04) translate(-1393.5 -1568.0)">25</text>
<text x="1142.7" y="1601.0" font-size="31.2" text-anchor="middle" transform="translate(1142.7 1601.0) scale(1 1.04) translate(-1142.7 -1601.0)">Days after infusion</text>
<text x="777.1" y="1309.8" font-size="30.8" text-anchor="middle" transform="rotate(-90 777.1 1309.8) translate(777.1 1309.8) scale(1 1.04) translate(-777.1 -1309.8)">IL-2 (pg/ml)</text>
<text x="1113.2" y="1313.4" font-size="31" text-anchor="middle" transform="translate(1113.2 1313.4) scale(1 1.04) translate(-1113.2 -1313.4)">P040</text>
<polyline points="889.7,1518.4 969.0,1518.4 1090.8,1518.4 1171.3,1518.4 1312.1,1518.4" fill="none" stroke="#3a7fbb" stroke-width="4.3" stroke-linejoin="round"/>
<rect x="882.50" y="1511.20" width="14.40" height="14.40" fill="#3a7fbb"/>
<rect x="961.80" y="1511.20" width="14.40" height="14.40" fill="#3a7fbb"/>
<rect x="1083.60" y="1511.20" width="14.40" height="14.40" fill="#3a7fbb"/>
<rect x="1164.10" y="1511.20" width="14.40" height="14.40" fill="#3a7fbb"/>
<rect x="1304.90" y="1511.20" width="14.40" height="14.40" fill="#3a7fbb"/>
<polyline points="1009.0,1311.9 1111.0,1166.4 1332.4,1519.7 1401.1,1519.7" fill="none" stroke="#d7621f" stroke-width="4.3" stroke-linejoin="round"/>
<circle cx="1009.0" cy="1311.9" r="8.10" fill="#d7621f"/>
<circle cx="1111.0" cy="1166.4" r="8.10" fill="#d7621f"/>
<circle cx="1332.4" cy="1519.7" r="8.10" fill="#d7621f"/>
<circle cx="1401.1" cy="1519.7" r="8.10" fill="#d7621f"/>
<line x1="1151.1" y1="1139" x2="1195.4" y2="1139" stroke="#3a7fbb" stroke-width="4.3"/>
<rect x="1163.70" y="1129.70" width="18.60" height="18.60" fill="#3a7fbb"/>
<text x="1205.4" y="1148.4" font-size="24.5" text-anchor="start" transform="translate(1205.4 1148.4) scale(1 1.04) translate(-1205.4 -1148.4)">Peripheral blood</text>
<line x1="1151.1" y1="1170.6" x2="1195.4" y2="1170.6" stroke="#d7621f" stroke-width="4.3"/>
<circle cx="1173.0" cy="1170.6" r="9.30" fill="#d7621f"/>
<text x="1205.4" y="1180.0" font-size="24.5" text-anchor="start" transform="translate(1205.4 1180.0) scale(1 1.04) translate(-1205.4 -1180.0)">Ascites</text>
<text x="1446.0" y="1130.2" font-size="53" text-anchor="start" font-weight="bold" transform="translate(1446.0 1130.2) scale(1 1.04) translate(-1446.0 -1130.2)">m</text>
<line x1="1578" y1="1108.7" x2="1578" y2="1537" stroke="#000" stroke-width="3.5"/>
<line x1="1578" y1="1535.3" x2="2123" y2="1535.3" stroke="#000" stroke-width="3.5"/>
<text x="1568.1" y="1523.7" font-size="27" text-anchor="end" transform="translate(1568.1 1523.7) scale(1 1.04) translate(-1568.1 -1523.7)">0</text>
<text x="1568.1" y="1452.9" font-size="27" text-anchor="end" transform="translate(1568.1 1452.9) scale(1 1.04) translate(-1568.1 -1452.9)">25</text>
<text x="1568.1" y="1380.4" font-size="27" text-anchor="end" transform="translate(1568.1 1380.4) scale(1 1.04) translate(-1568.1 -1380.4)">50</text>
<text x="1568.1" y="1307.9" font-size="27" text-anchor="end" transform="translate(1568.1 1307.9) scale(1 1.04) translate(-1568.1 -1307.9)">75</text>
<text x="1568.1" y="1234.9" font-size="27" text-anchor="end" transform="translate(1568.1 1234.9) scale(1 1.04) translate(-1568.1 -1234.9)">100</text>
<text x="1568.1" y="1163.2" font-size="27" text-anchor="end" transform="translate(1568.1 1163.2) scale(1 1.04) translate(-1568.1 -1163.2)">125</text>
<text x="1602.4" y="1568.0" font-size="27" text-anchor="middle" transform="translate(1602.4 1568.0) scale(1 1.04) translate(-1602.4 -1568.0)">0</text>
<text x="1683.8" y="1568.0" font-size="27" text-anchor="middle" transform="translate(1683.8 1568.0) scale(1 1.04) translate(-1683.8 -1568.0)">5</text>
<text x="1774.4" y="1568.0" font-size="27" text-anchor="middle" transform="translate(1774.4 1568.0) scale(1 1.04) translate(-1774.4 -1568.0)">10</text>
<text x="1863.0" y="1568.0" font-size="27" text-anchor="middle" transform="translate(1863.0 1568.0) scale(1 1.04) translate(-1863.0 -1568.0)">15</text>
<text x="1950.2" y="1568.0" font-size="27" text-anchor="middle" transform="translate(1950.2 1568.0) scale(1 1.04) translate(-1950.2 -1568.0)">20</text>
<text x="2035.8" y="1568.0" font-size="27" text-anchor="middle" transform="translate(2035.8 1568.0) scale(1 1.04) translate(-2035.8 -1568.0)">25</text>
<text x="2120.9" y="1568.0" font-size="27" text-anchor="middle" transform="translate(2120.9 1568.0) scale(1 1.04) translate(-2120.9 -1568.0)">30</text>
<text x="1854.1" y="1601.0" font-size="31.2" text-anchor="middle" transform="translate(1854.1 1601.0) scale(1 1.04) translate(-1854.1 -1601.0)">Days after infusion</text>
<text x="1465.4" y="1332.6" font-size="30.8" text-anchor="middle" transform="rotate(-90 1465.4 1332.6) translate(1465.4 1332.6) scale(1 1.04) translate(-1465.4 -1332.6)">CAR copies</text>
<text x="1504.0" y="1332.6" font-size="30.8" text-anchor="middle" transform="rotate(-90 1504.0 1332.6) translate(1504.0 1332.6) scale(1 1.04) translate(-1504.0 -1332.6)">(copies/µg genomic DNA)</text>
<text x="1945.1" y="1222.8" font-size="31" text-anchor="middle" transform="translate(1945.1 1222.8) scale(1 1.04) translate(-1945.1 -1222.8)">P045</text>
<polyline points="1601.5,1515.5 1671.1,1138.2 1723.4,1129.3 1792.1,1172.7 1860.8,1239.4 1983.9,1419.4 2086.4,1480.5" fill="none" stroke="#3a7fbb" stroke-width="4.3" stroke-linejoin="round"/>
<rect x="1594.30" y="1508.30" width="14.40" height="14.40" fill="#3a7fbb"/>
<rect x="1663.90" y="1131.00" width="14.40" height="14.40" fill="#3a7fbb"/>
<rect x="1716.20" y="1122.10" width="14.40" height="14.40" fill="#3a7fbb"/>
<rect x="1784.90" y="1165.50" width="14.40" height="14.40" fill="#3a7fbb"/>
<rect x="1853.60" y="1232.20" width="14.40" height="14.40" fill="#3a7fbb"/>
<rect x="1976.70" y="1412.20" width="14.40" height="14.40" fill="#3a7fbb"/>
<rect x="2079.20" y="1473.30" width="14.40" height="14.40" fill="#3a7fbb"/>
<circle cx="2088.1" cy="1214.9" r="8.10" fill="#d7621f"/>
<line x1="1668.6" y1="1394.1" x2="1712.8" y2="1394.1" stroke="#3a7fbb" stroke-width="4.3"/>
<rect x="1681.60" y="1384.80" width="18.60" height="18.60" fill="#3a7fbb"/>
<text x="1722.8" y="1403.5" font-size="24.5" text-anchor="start" transform="translate(1722.8 1403.5) scale(1 1.04) translate(-1722.8 -1403.5)">Peripheral blood</text>
<line x1="1668.6" y1="1426.5" x2="1712.8" y2="1426.5" stroke="#d7621f" stroke-width="4.3"/>
<circle cx="1690.9" cy="1426.5" r="9.30" fill="#d7621f"/>
<text x="1722.8" y="1435.9" font-size="24.5" text-anchor="start" transform="translate(1722.8 1435.9) scale(1 1.04) translate(-1722.8 -1435.9)">Ascites</text>
<text x="22.0" y="1681.3" font-size="53" text-anchor="start" font-weight="bold" transform="translate(22.0 1681.3) scale(1 1.04) translate(-22.0 -1681.3)">d</text>
<line x1="166.5" y1="1660" x2="166.5" y2="2089.5" stroke="#000" stroke-width="3.5"/>
<line x1="166.5" y1="2088" x2="723" y2="2088" stroke="#000" stroke-width="3.5"/>
<text x="156.6" y="2081.4" font-size="27" text-anchor="end" transform="translate(156.6 2081.4) scale(1 1.04) translate(-156.6 -2081.4)">0</text>
<text x="156.6" y="2015.2" font-size="27" text-anchor="end" transform="translate(156.6 2015.2) scale(1 1.04) translate(-156.6 -2015.2)">50</text>
<text x="156.6" y="1949.0" font-size="27" text-anchor="end" transform="translate(156.6 1949.0) scale(1 1.04) translate(-156.6 -1949.0)">100</text>
<text x="156.6" y="1882.5" font-size="27" text-anchor="end" transform="translate(156.6 1882.5) scale(1 1.04) translate(-156.6 -1882.5)">150</text>
<text x="156.6" y="1815.8" font-size="27" text-anchor="end" transform="translate(156.6 1815.8) scale(1 1.04) translate(-156.6 -1815.8)">200</text>
<text x="156.6" y="1749.7" font-size="27" text-anchor="end" transform="translate(156.6 1749.7) scale(1 1.04) translate(-156.6 -1749.7)">250</text>
<text x="156.6" y="1683.0" font-size="27" text-anchor="end" transform="translate(156.6 1683.0) scale(1 1.04) translate(-156.6 -1683.0)">300</text>
<text x="168.6" y="2119.8" font-size="27" text-anchor="middle" transform="translate(168.6 2119.8) scale(1 1.04) translate(-168.6 -2119.8)">0</text>
<text x="259.3" y="2119.8" font-size="27" text-anchor="middle" transform="translate(259.3 2119.8) scale(1 1.04) translate(-259.3 -2119.8)">20</text>
<text x="365.9" y="2119.8" font-size="27" text-anchor="middle" transform="translate(365.9 2119.8) scale(1 1.04) translate(-365.9 -2119.8)">40</text>
<text x="471.3" y="2119.8" font-size="27" text-anchor="middle" transform="translate(471.3 2119.8) scale(1 1.04) translate(-471.3 -2119.8)">60</text>
<text x="576.7" y="2119.8" font-size="27" text-anchor="middle" transform="translate(576.7 2119.8) scale(1 1.04) translate(-576.7 -2119.8)">80</text>
<text x="681.7" y="2119.8" font-size="27" text-anchor="middle" transform="translate(681.7 2119.8) scale(1 1.04) translate(-681.7 -2119.8)">100</text>
<text x="426.6" y="2153.7" font-size="31.2" text-anchor="middle" transform="translate(426.6 2153.7) scale(1 1.04) translate(-426.6 -2153.7)">Days after infusion</text>
<text x="64.4" y="1877.2" font-size="30.8" text-anchor="middle" transform="rotate(-90 64.4 1877.2) translate(64.4 1877.2) scale(1 1.04) translate(-64.4 -1877.2)">TNF-α (pg/ml)</text>
<text x="387.0" y="1863.9" font-size="31" text-anchor="middle" transform="translate(387.0 1863.9) scale(1 1.04) translate(-387.0 -1863.9)">P003</text>
<polyline points="190.9,2065.8 197.8,2065.6 206.6,2065.6 219.2,2065.0 228.7,2065.0 259.3,2066.9 328.0,2066.9 696.5,2069.8" fill="none" stroke="#3a7fbb" stroke-width="4.3" stroke-linejoin="round"/>
<rect x="183.70" y="2058.60" width="14.40" height="14.40" fill="#3a7fbb"/>
<rect x="190.60" y="2058.40" width="14.40" height="14.40" fill="#3a7fbb"/>
<rect x="199.40" y="2058.40" width="14.40" height="14.40" fill="#3a7fbb"/>
<rect x="212.00" y="2057.80" width="14.40" height="14.40" fill="#3a7fbb"/>
<rect x="221.50" y="2057.80" width="14.40" height="14.40" fill="#3a7fbb"/>
<rect x="252.10" y="2059.70" width="14.40" height="14.40" fill="#3a7fbb"/>
<rect x="320.80" y="2059.70" width="14.40" height="14.40" fill="#3a7fbb"/>
<rect x="689.30" y="2062.60" width="14.40" height="14.40" fill="#3a7fbb"/>
<polyline points="196.9,1681.1 202.4,1998.2 207.4,1725.4 218.0,2004.5" fill="none" stroke="#d7621f" stroke-width="4.3" stroke-linejoin="round"/>
<circle cx="196.9" cy="1681.1" r="8.10" fill="#d7621f"/>
<circle cx="202.4" cy="1998.2" r="8.10" fill="#d7621f"/>
<circle cx="207.4" cy="1725.4" r="8.10" fill="#d7621f"/>
<circle cx="218.0" cy="2004.5" r="8.10" fill="#d7621f"/>
<line x1="438.4" y1="1695" x2="481.9" y2="1695" stroke="#3a7fbb" stroke-width="4.3"/>
<rect x="450.20" y="1685.70" width="18.60" height="18.60" fill="#3a7fbb"/>
<text x="491.5" y="1704.4" font-size="24.5" text-anchor="start" transform="translate(491.5 1704.4) scale(1 1.04) translate(-491.5 -1704.4)">Peripheral blood</text>
<line x1="438.4" y1="1726.2" x2="481.9" y2="1726.2" stroke="#d7621f" stroke-width="4.3"/>
<circle cx="459.5" cy="1726.2" r="9.30" fill="#d7621f"/>
<text x="491.5" y="1735.6" font-size="24.5" text-anchor="start" transform="translate(491.5 1735.6) scale(1 1.04) translate(-491.5 -1735.6)">Ascites</text>
<text x="743.7" y="1681.3" font-size="53" text-anchor="start" font-weight="bold" transform="translate(743.7 1681.3) scale(1 1.04) translate(-743.7 -1681.3)">i</text>
<line x1="862.3" y1="1660" x2="862.3" y2="2090" stroke="#000" stroke-width="3.5"/>
<line x1="862.3" y1="2088.8" x2="1420" y2="2088.8" stroke="#000" stroke-width="3.5"/>
<text x="852.5" y="2079.8" font-size="27" text-anchor="end" transform="translate(852.5 2079.8) scale(1 1.04) translate(-852.5 -2079.8)">0</text>
<text x="852.5" y="2022.8" font-size="27" text-anchor="end" transform="translate(852.5 2022.8) scale(1 1.04) translate(-852.5 -2022.8)">50</text>
<text x="852.5" y="1965.9" font-size="27" text-anchor="end" transform="translate(852.5 1965.9) scale(1 1.04) translate(-852.5 -1965.9)">100</text>
<text x="852.5" y="1908.5" font-size="27" text-anchor="end" transform="translate(852.5 1908.5) scale(1 1.04) translate(-852.5 -1908.5)">150</text>
<text x="852.5" y="1851.7" font-size="27" text-anchor="end" transform="translate(852.5 1851.7) scale(1 1.04) translate(-852.5 -1851.7)">200</text>
<text x="852.5" y="1794.8" font-size="27" text-anchor="end" transform="translate(852.5 1794.8) scale(1 1.04) translate(-852.5 -1794.8)">250</text>
<text x="852.5" y="1737.8" font-size="27" text-anchor="end" transform="translate(852.5 1737.8) scale(1 1.04) translate(-852.5 -1737.8)">300</text>
<text x="852.5" y="1680.0" font-size="27" text-anchor="end" transform="translate(852.5 1680.0) scale(1 1.04) translate(-852.5 -1680.0)">350</text>
<text x="888.4" y="2119.8" font-size="27" text-anchor="middle" transform="translate(888.4 2119.8) scale(1 1.04) translate(-888.4 -2119.8)">0</text>
<text x="988.0" y="2119.8" font-size="27" text-anchor="middle" transform="translate(988.0 2119.8) scale(1 1.04) translate(-988.0 -2119.8)">5</text>
<text x="1090.0" y="2119.8" font-size="27" text-anchor="middle" transform="translate(1090.0 2119.8) scale(1 1.04) translate(-1090.0 -2119.8)">10</text>
<text x="1192.0" y="2119.8" font-size="27" text-anchor="middle" transform="translate(1192.0 2119.8) scale(1 1.04) translate(-1192.0 -2119.8)">15</text>
<text x="1292.3" y="2119.8" font-size="27" text-anchor="middle" transform="translate(1292.3 2119.8) scale(1 1.04) translate(-1292.3 -2119.8)">20</text>
<text x="1393.5" y="2119.8" font-size="27" text-anchor="middle" transform="translate(1393.5 2119.8) scale(1 1.04) translate(-1393.5 -2119.8)">25</text>
<text x="1142.7" y="2153.7" font-size="31.2" text-anchor="middle" transform="translate(1142.7 2153.7) scale(1 1.04) translate(-1142.7 -2153.7)">Days after infusion</text>
<text x="777.1" y="1877.2" font-size="30.8" text-anchor="middle" transform="rotate(-90 777.1 1877.2) translate(777.1 1877.2) scale(1 1.04) translate(-777.1 -1877.2)">TNF-α (pg/ml)</text>
<text x="1113.2" y="1863.9" font-size="31" text-anchor="middle" transform="translate(1113.2 1863.9) scale(1 1.04) translate(-1113.2 -1863.9)">P040</text>
<polyline points="887.6,2067.7 968.5,2066.9 1090.0,2069.0 1170.9,2069.0 1311.3,2069.0" fill="none" stroke="#3a7fbb" stroke-width="4.3" stroke-linejoin="round"/>
<rect x="880.40" y="2060.50" width="14.40" height="14.40" fill="#3a7fbb"/>
<rect x="961.30" y="2059.70" width="14.40" height="14.40" fill="#3a7fbb"/>
<rect x="1082.80" y="2061.80" width="14.40" height="14.40" fill="#3a7fbb"/>
<rect x="1163.70" y="2061.80" width="14.40" height="14.40" fill="#3a7fbb"/>
<rect x="1304.10" y="2061.80" width="14.40" height="14.40" fill="#3a7fbb"/>
<polyline points="1009.0,2053.4 1109.8,1679.9 1331.1,2067.7 1392.2,1723.3" fill="none" stroke="#d7621f" stroke-width="4.3" stroke-linejoin="round"/>
<circle cx="1009.0" cy="2053.4" r="8.10" fill="#d7621f"/>
<circle cx="1109.8" cy="1679.9" r="8.10" fill="#d7621f"/>
<circle cx="1331.1" cy="2067.7" r="8.10" fill="#d7621f"/>
<circle cx="1392.2" cy="1723.3" r="8.10" fill="#d7621f"/>
<line x1="1149" y1="1690.4" x2="1193.3" y2="1690.4" stroke="#3a7fbb" stroke-width="4.3"/>
<rect x="1161.60" y="1681.10" width="18.60" height="18.60" fill="#3a7fbb"/>
<text x="1202.8" y="1699.8" font-size="24.5" text-anchor="start" transform="translate(1202.8 1699.8) scale(1 1.04) translate(-1202.8 -1699.8)">Peripheral blood</text>
<line x1="1149" y1="1722" x2="1193.3" y2="1722" stroke="#d7621f" stroke-width="4.3"/>
<circle cx="1170.9" cy="1722.0" r="9.30" fill="#d7621f"/>
<text x="1202.8" y="1731.4" font-size="24.5" text-anchor="start" transform="translate(1202.8 1731.4) scale(1 1.04) translate(-1202.8 -1731.4)">Ascites</text>
<text x="21.7" y="2233.7" font-size="53" text-anchor="start" font-weight="bold" transform="translate(21.7 2233.7) scale(1 1.04) translate(-21.7 -2233.7)">e</text>
<line x1="167.8" y1="2209" x2="167.8" y2="2640" stroke="#000" stroke-width="3.5"/>
<line x1="167.8" y1="2638.1" x2="701.9" y2="2638.1" stroke="#000" stroke-width="3.5"/>
<text x="155.4" y="2628.1" font-size="27" text-anchor="end" transform="translate(155.4 2628.1) scale(1 1.04) translate(-155.4 -2628.1)">0</text>
<text x="155.4" y="2562.8" font-size="27" text-anchor="end" transform="translate(155.4 2562.8) scale(1 1.04) translate(-155.4 -2562.8)">10000</text>
<text x="155.4" y="2496.6" font-size="27" text-anchor="end" transform="translate(155.4 2496.6) scale(1 1.04) translate(-155.4 -2496.6)">20000</text>
<text x="155.4" y="2430.4" font-size="27" text-anchor="end" transform="translate(155.4 2430.4) scale(1 1.04) translate(-155.4 -2430.4)">30000</text>
<text x="155.4" y="2364.6" font-size="27" text-anchor="end" transform="translate(155.4 2364.6) scale(1 1.04) translate(-155.4 -2364.6)">40000</text>
<text x="155.4" y="2298.4" font-size="27" text-anchor="end" transform="translate(155.4 2298.4) scale(1 1.04) translate(-155.4 -2298.4)">50000</text>
<text x="155.4" y="2232.3" font-size="27" text-anchor="end" transform="translate(155.4 2232.3) scale(1 1.04) translate(-155.4 -2232.3)">60000</text>
<text x="257.2" y="2669.4" font-size="27" text-anchor="middle" transform="translate(257.2 2669.4) scale(1 1.04) translate(-257.2 -2669.4)">20</text>
<text x="357.5" y="2669.4" font-size="27" text-anchor="middle" transform="translate(357.5 2669.4) scale(1 1.04) translate(-357.5 -2669.4)">40</text>
<text x="458.7" y="2669.4" font-size="27" text-anchor="middle" transform="translate(458.7 2669.4) scale(1 1.04) translate(-458.7 -2669.4)">60</text>
<text x="558.6" y="2669.4" font-size="27" text-anchor="middle" transform="translate(558.6 2669.4) scale(1 1.04) translate(-558.6 -2669.4)">80</text>
<text x="661.9" y="2669.4" font-size="27" text-anchor="middle" transform="translate(661.9 2669.4) scale(1 1.04) translate(-661.9 -2669.4)">100</text>
<text x="412.3" y="2702.6" font-size="31.2" text-anchor="middle" transform="translate(412.3 2702.6) scale(1 1.04) translate(-412.3 -2702.6)">Days after infusion</text>
<text x="56.0" y="2415.5" font-size="30.8" text-anchor="middle" transform="rotate(-90 56.0 2415.5) translate(56.0 2415.5) scale(1 1.04) translate(-56.0 -2415.5)">IL-6 (pg/ml)</text>
<text x="387.0" y="2370.2" font-size="31" text-anchor="middle" transform="translate(387.0 2370.2) scale(1 1.04) translate(-387.0 -2370.2)">P003</text>
<polyline points="190.6,2615.5 197.3,2617.0 204.5,2617.6 217.1,2619.5 227.7,2619.5 257.6,2618.8 322.5,2618.0 676.6,2618.7" fill="none" stroke="#3a7fbb" stroke-width="4.3" stroke-linejoin="round"/>
<rect x="183.40" y="2608.30" width="14.40" height="14.40" fill="#3a7fbb"/>
<rect x="190.10" y="2609.80" width="14.40" height="14.40" fill="#3a7fbb"/>
<rect x="197.30" y="2610.40" width="14.40" height="14.40" fill="#3a7fbb"/>
<rect x="209.90" y="2612.30" width="14.40" height="14.40" fill="#3a7fbb"/>
<rect x="220.50" y="2612.30" width="14.40" height="14.40" fill="#3a7fbb"/>
<rect x="250.40" y="2611.60" width="14.40" height="14.40" fill="#3a7fbb"/>
<rect x="315.30" y="2610.80" width="14.40" height="14.40" fill="#3a7fbb"/>
<rect x="669.40" y="2611.50" width="14.40" height="14.40" fill="#3a7fbb"/>
<polyline points="196.0,2359.4 201.5,2417.6 206.6,2484.2 217.1,2230.9" fill="none" stroke="#d7621f" stroke-width="4.3" stroke-linejoin="round"/>
<circle cx="196.0" cy="2359.4" r="8.10" fill="#d7621f"/>
<circle cx="201.5" cy="2417.6" r="8.10" fill="#d7621f"/>
<circle cx="206.6" cy="2484.2" r="8.10" fill="#d7621f"/>
<circle cx="217.1" cy="2230.9" r="8.10" fill="#d7621f"/>
<line x1="436.3" y1="2241.4" x2="479.8" y2="2241.4" stroke="#3a7fbb" stroke-width="4.3"/>
<rect x="448.10" y="2232.10" width="18.60" height="18.60" fill="#3a7fbb"/>
<text x="490.6" y="2250.8" font-size="24.5" text-anchor="start" transform="translate(490.6 2250.8) scale(1 1.04) translate(-490.6 -2250.8)">Peripheral blood</text>
<line x1="436.3" y1="2273" x2="479.8" y2="2273" stroke="#d7621f" stroke-width="4.3"/>
<circle cx="457.4" cy="2273.0" r="9.30" fill="#d7621f"/>
<text x="490.6" y="2282.4" font-size="24.5" text-anchor="start" transform="translate(490.6 2282.4) scale(1 1.04) translate(-490.6 -2282.4)">Ascites</text>
<text x="746.8" y="2234.4" font-size="53" text-anchor="start" font-weight="bold" transform="translate(746.8 2234.4) scale(1 1.04) translate(-746.8 -2234.4)">j</text>
<line x1="863.6" y1="2209" x2="863.6" y2="2640" stroke="#000" stroke-width="3.5"/>
<line x1="863.6" y1="2638.1" x2="1397.7" y2="2638.1" stroke="#000" stroke-width="3.5"/>
<text x="854.1" y="2628.1" font-size="27" text-anchor="end" transform="translate(854.1 2628.1) scale(1 1.04) translate(-854.1 -2628.1)">0</text>
<text x="854.1" y="2543.0" font-size="27" text-anchor="end" transform="translate(854.1 2543.0) scale(1 1.04) translate(-854.1 -2543.0)">10000</text>
<text x="854.1" y="2458.6" font-size="27" text-anchor="end" transform="translate(854.1 2458.6) scale(1 1.04) translate(-854.1 -2458.6)">20000</text>
<text x="854.1" y="2373.5" font-size="27" text-anchor="end" transform="translate(854.1 2373.5) scale(1 1.04) translate(-854.1 -2373.5)">30000</text>
<text x="854.1" y="2288.8" font-size="27" text-anchor="end" transform="translate(854.1 2288.8) scale(1 1.04) translate(-854.1 -2288.8)">40000</text>
<text x="887.6" y="2669.4" font-size="27" text-anchor="middle" transform="translate(887.6 2669.4) scale(1 1.04) translate(-887.6 -2669.4)">0</text>
<text x="983.7" y="2669.4" font-size="27" text-anchor="middle" transform="translate(983.7 2669.4) scale(1 1.04) translate(-983.7 -2669.4)">5</text>
<text x="1081.5" y="2669.4" font-size="27" text-anchor="middle" transform="translate(1081.5 2669.4) scale(1 1.04) translate(-1081.5 -2669.4)">10</text>
<text x="1179.8" y="2669.4" font-size="27" text-anchor="middle" transform="translate(1179.8 2669.4) scale(1 1.04) translate(-1179.8 -2669.4)">15</text>
<text x="1276.7" y="2669.4" font-size="27" text-anchor="middle" transform="translate(1276.7 2669.4) scale(1 1.04) translate(-1276.7 -2669.4)">20</text>
<text x="1373.3" y="2669.4" font-size="27" text-anchor="middle" transform="translate(1373.3 2669.4) scale(1 1.04) translate(-1373.3 -2669.4)">25</text>
<text x="1142.7" y="2702.6" font-size="31.2" text-anchor="middle" transform="translate(1142.7 2702.6) scale(1 1.04) translate(-1142.7 -2702.6)">Days after infusion</text>
<text x="758.1" y="2415.5" font-size="30.8" text-anchor="middle" transform="rotate(-90 758.1 2415.5) translate(758.1 2415.5) scale(1 1.04) translate(-758.1 -2415.5)">IL-6 (pg/ml)</text>
<text x="1113.2" y="2370.2" font-size="31" text-anchor="middle" transform="translate(1113.2 2370.2) scale(1 1.04) translate(-1113.2 -2370.2)">P040</text>
<polyline points="887.6,2618.7 964.8,2617.9 1081.5,2593.4 1159.5,2598.9 1294.4,2613.7" fill="none" stroke="#3a7fbb" stroke-width="4.3" stroke-linejoin="round"/>
<rect x="880.40" y="2611.50" width="14.40" height="14.40" fill="#3a7fbb"/>
<rect x="957.60" y="2610.70" width="14.40" height="14.40" fill="#3a7fbb"/>
<rect x="1074.30" y="2586.20" width="14.40" height="14.40" fill="#3a7fbb"/>
<rect x="1152.30" y="2591.70" width="14.40" height="14.40" fill="#3a7fbb"/>
<rect x="1287.20" y="2606.50" width="14.40" height="14.40" fill="#3a7fbb"/>
<polyline points="1003.5,2350.2 1101.3,2409.2 1314.3,2348.1 1373.3,2230.0" fill="none" stroke="#d7621f" stroke-width="4.3" stroke-linejoin="round"/>
<circle cx="1003.5" cy="2350.2" r="8.10" fill="#d7621f"/>
<circle cx="1101.3" cy="2409.2" r="8.10" fill="#d7621f"/>
<circle cx="1314.3" cy="2348.1" r="8.10" fill="#d7621f"/>
<circle cx="1373.3" cy="2230.0" r="8.10" fill="#d7621f"/>
<line x1="1104.7" y1="2248.2" x2="1148.2" y2="2248.2" stroke="#3a7fbb" stroke-width="4.3"/>
<rect x="1116.50" y="2238.90" width="18.60" height="18.60" fill="#3a7fbb"/>
<text x="1158.6" y="2257.6" font-size="24.5" text-anchor="start" transform="translate(1158.6 2257.6) scale(1 1.04) translate(-1158.6 -2257.6)">Peripheral blood</text>
<line x1="1104.7" y1="2280.6" x2="1148.2" y2="2280.6" stroke="#d7621f" stroke-width="4.3"/>
<circle cx="1125.8" cy="2280.6" r="9.30" fill="#d7621f"/>
<text x="1158.6" y="2290.0" font-size="24.5" text-anchor="start" transform="translate(1158.6 2290.0) scale(1 1.04) translate(-1158.6 -2290.0)">Ascites</text>
</svg>
</body></html>
